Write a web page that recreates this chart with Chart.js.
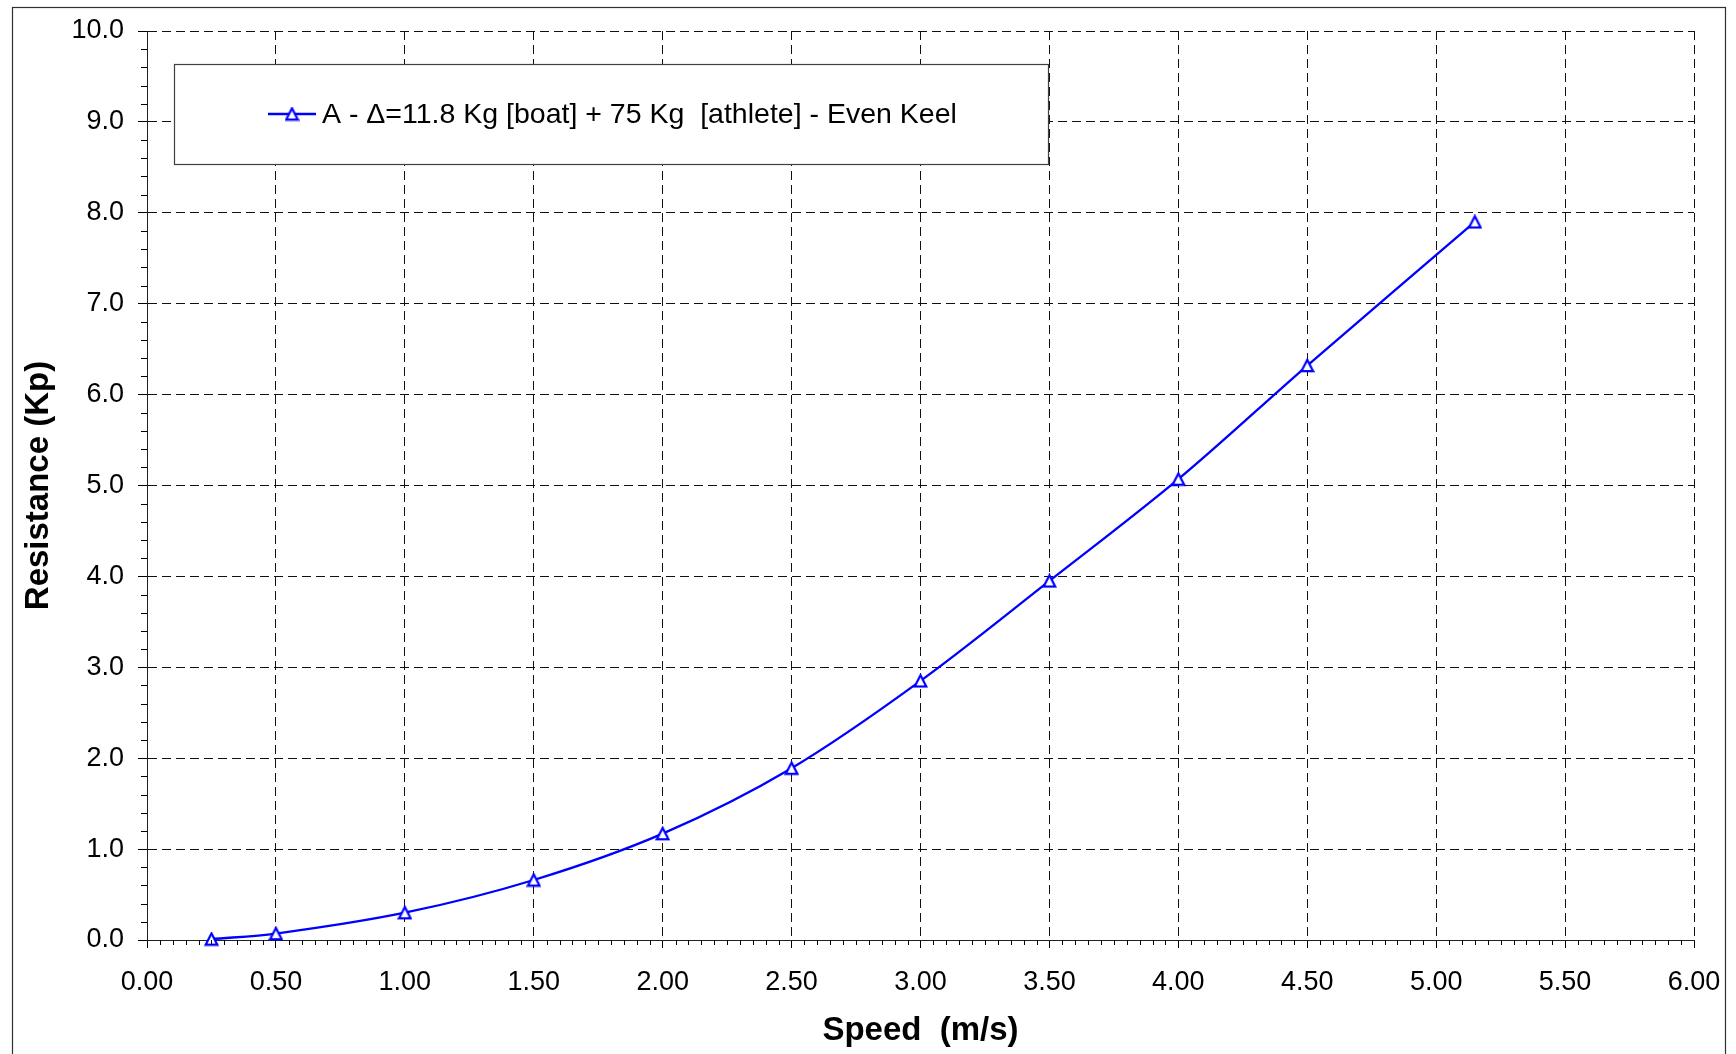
<!DOCTYPE html>
<html>
<head>
<meta charset="utf-8">
<title>Resistance vs Speed</title>
<script src="https://cdn.jsdelivr.net/npm/chart.js@4/dist/chart.umd.min.js"></script>
<style>
  html, body { margin: 0; padding: 0; background: #ffffff; }
  canvas { display: block; }
</style>
</head>
<body>
<canvas id="chart" width="1736" height="1054"></canvas>
<script>
// Towing-tank results: hull resistance against speed
const seriesLabel = 'A - \u0394=11.8 Kg [boat] + 75 Kg  [athlete] - Even Keel';
const speeds = [0.25, 0.50, 1.00, 1.50, 2.00, 2.50, 3.00, 3.50, 4.00, 4.50, 5.15];
const resistance = [0.01, 0.07, 0.30, 0.66, 1.17, 1.89, 2.85, 3.95, 5.07, 6.32, 7.90];
const xTickValues = [0, 0.5, 1, 1.5, 2, 2.5, 3, 3.5, 4, 4.5, 5, 5.5, 6];
const yTickValues = [0, 1, 2, 3, 4, 5, 6, 7, 8, 9, 10];
const xTitle = 'Speed  (m/s)';
const yTitle = 'Resistance (Kp)';

const BLUE = '#0000ff';
const FONT = "'Liberation Sans', Arial, sans-serif";

// hollow triangle marker, centred in its own box
function makeTriangle() {
  const c = document.createElement('canvas');
  c.width = 15; c.height = 15;
  const g = c.getContext('2d');
  g.beginPath();
  g.moveTo(7.5, 1.8);
  g.lineTo(13.4, 13.2);
  g.lineTo(1.6, 13.2);
  g.closePath();
  g.fillStyle = '#ffffff';
  g.fill();
  g.lineWidth = 2.2;
  g.strokeStyle = BLUE;
  g.lineJoin = 'miter';
  g.stroke();
  return c;
}
const triangle = makeTriangle();

const points = speeds.map((s, i) => ({ x: s, y: resistance[i] }));

const frame = {
  id: 'frame',
  beforeDraw(chart) {
    const ctx = chart.ctx;
    ctx.save();
    ctx.fillStyle = '#ffffff';
    ctx.fillRect(0, 0, chart.width, chart.height);
    ctx.strokeStyle = '#303030';
    ctx.lineWidth = 1.2;
    ctx.strokeRect(12.5, 7.5, 1713, 1060);
    ctx.restore();
  },
  afterDraw(chart) {
    const ctx = chart.ctx;
    const xs = chart.scales.x, ys = chart.scales.y;
    const area = chart.chartArea;
    ctx.save();
    // minor tick marks
    ctx.strokeStyle = '#000000';
    ctx.lineWidth = 1;
    ctx.beginPath();
    for (let k = 1; k < 50; k++) {
      if (k % 5 === 0) continue;
      const py = Math.round(ys.getPixelForValue(k * 0.2)) + 0.5;
      ctx.moveTo(area.left - 6, py);
      ctx.lineTo(area.left, py);
    }
    for (let k = 1; k < 120; k++) {
      if (k % 10 === 0) continue;
      const px = Math.round(xs.getPixelForValue(k * 0.05)) + 0.5;
      ctx.moveTo(px, area.bottom);
      ctx.lineTo(px, area.bottom + 5);
    }
    ctx.stroke();

    // legend box
    const bx = 174, by = 64, bw = 874, bh = 100;
    ctx.fillStyle = '#ffffff';
    ctx.fillRect(bx, by, bw, bh);
    ctx.strokeStyle = '#404040';
    ctx.lineWidth = 1.2;
    ctx.strokeRect(bx + 0.5, by + 0.5, bw, bh);
    const ly = 114;
    ctx.strokeStyle = BLUE;
    ctx.lineWidth = 2.3;
    ctx.beginPath();
    ctx.moveTo(268, ly);
    ctx.lineTo(316, ly);
    ctx.stroke();
    ctx.drawImage(triangle, 292 - 7.5, ly - 7.5);
    ctx.fillStyle = '#000000';
    ctx.font = '28.5px ' + FONT;
    ctx.textBaseline = 'middle';
    ctx.textAlign = 'left';
    ctx.fillText(chart.data.datasets[0].label, 322, ly + 1);
    ctx.restore();
  }
};

new Chart(document.getElementById('chart'), {
  type: 'scatter',
  data: {
    datasets: [{
      label: seriesLabel,
      data: points,
      showLine: true,
      borderColor: BLUE,
      borderWidth: 2.3,
      tension: 0.33,
      pointStyle: triangle,
      pointRadius: 7,
      pointHoverRadius: 7,
      clip: false
    }]
  },
  options: {
    responsive: false,
    animation: false,
    devicePixelRatio: 1,
    layout: { padding: { left: 0, right: 42, top: 31, bottom: 0 } },
    plugins: {
      legend: { display: false },
      tooltip: { enabled: false }
    },
    scales: {
      x: {
        type: 'linear',
        min: 0,
        max: 6,
        afterBuildTicks(scale) { scale.ticks = xTickValues.map(v => ({ value: v })); },
        afterFit(scale) {
          scale.height = 114;
          scale.paddingLeft = 0;
          scale.paddingRight = 0;
        },
        ticks: {
          color: '#000000',
          font: { family: FONT, size: 27 },
          padding: 18,
          maxRotation: 0,
          autoSkip: false,
          callback: v => Number(v).toFixed(2)
        },
        grid: {
          color: '#111111',
          lineWidth: 1,
          tickLength: 8,
          tickColor: '#000000',
          tickWidth: 1
        },
        border: { display: true, color: '#202020', width: 1, dash: [9, 5] },
        title: {
          display: true,
          text: xTitle,
          color: '#000000',
          font: { family: FONT, size: 33, weight: 'bold' },
          padding: { top: 0, bottom: 3 }
        }
      },
      y: {
        type: 'linear',
        min: 0,
        max: 10,
        afterBuildTicks(scale) { scale.ticks = yTickValues.map(v => ({ value: v })); },
        afterFit(scale) {
          scale.width = 147;
          scale.paddingTop = 0;
          scale.paddingBottom = 0;
        },
        ticks: {
          color: '#000000',
          font: { family: FONT, size: 27 },
          padding: 14,
          autoSkip: false,
          callback: v => Number(v).toFixed(1)
        },
        grid: {
          color: '#111111',
          lineWidth: 1,
          tickLength: 9,
          tickColor: '#000000',
          tickWidth: 1
        },
        border: { display: true, color: '#202020', width: 1, dash: [9, 5] },
        title: {
          display: true,
          text: yTitle,
          color: '#000000',
          font: { family: FONT, size: 33, weight: 'bold' },
          padding: { top: 19, bottom: 0 }
        }
      }
    }
  },
  plugins: [frame]
});
</script>
</body>
</html>
